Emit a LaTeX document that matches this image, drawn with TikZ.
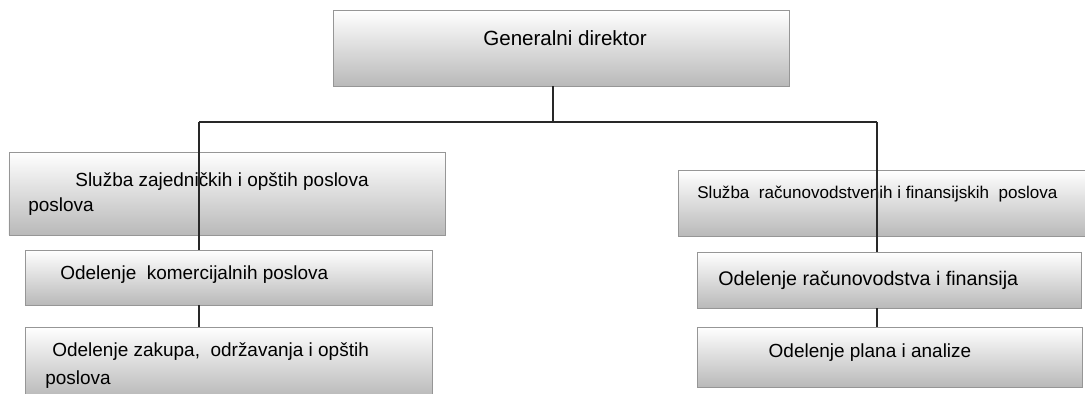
\documentclass[tikz,border=0pt]{standalone}
\usepackage{fontspec}
\setmainfont{Liberation Sans}
\definecolor{boxline}{RGB}{150, 150, 150}
\definecolor{boxgrey}{RGB}{185, 185, 185}
\definecolor{wire}{RGB}{40, 40, 40}
\tikzset{
  orgbox/.style={draw=boxline, top color=white, middle color=white, bottom color=boxgrey, inner sep=0pt},
  lbl/.style={anchor=west, inner sep=0pt, font=\fontsize{10.8}{13}\selectfont},
  wireline/.style={draw=wire, line width=0.8pt}
}
\begin{document}
\begin{tikzpicture}
        \useasboundingbox (0,0) rectangle (21.70,7.88);
        % boxes
        \node[orgbox, minimum width=9.12cm, minimum height=1.52cm] (gd) at (11.22,6.92) {};
        \node[orgbox, minimum width=8.72cm, minimum height=1.66cm] (sluzbaL) at (4.54,4.01) {};
        \node[orgbox, minimum width=8.24cm, minimum height=1.32cm] (sluzbaR) at (17.68,3.82) {};
        \node[orgbox, minimum width=8.14cm, minimum height=1.10cm] (komerc) at (4.57,2.33) {};
        \node[orgbox, minimum width=8.14cm, minimum height=1.40cm] (zakup) at (4.57,0.64) {};
        \node[orgbox, minimum width=7.68cm, minimum height=1.12cm] (racun) at (17.78,2.28) {};
        \node[orgbox, minimum width=7.70cm, minimum height=1.20cm] (plan) at (17.79,0.74) {};
        % texts
        \node[lbl, font=\fontsize{11.7}{14}\selectfont] (gdText) at (9.66,7.12) {Generalni direktor};
        \node[lbl] (sluzbaLText) at (1.50,4.24) {Služba zajedničkih i opštih poslova};
        \node[lbl] (sluzbaLMore) at (0.56,3.74) {poslova};
        \node[lbl, font=\fontsize{9.7}{12}\selectfont] (sluzbaRText) at (13.94,4.00) {Služba\ \ računovodstvenih i finansijskih\ \ poslova};
        \node[lbl] (komercText) at (1.20,2.38) {Odelenje\ \ komercijalnih poslova};
        \node[lbl] (zakupText) at (1.04,0.84) {Odelenje zakupa,\ \ održavanja i opštih};
        \node[lbl] (zakupMore) at (0.90,0.28) {poslova};
        \node[lbl, font=\fontsize{11.2}{13}\selectfont] (racunText) at (14.36,2.28) {Odelenje računovodstva i finansija};
        \node[lbl, anchor=center] (planText) at (17.40,0.82) {Odelenje plana i analize};
        % connectors
        \coordinate (fork) at (11.06,5.44);
        \coordinate (leftDrop) at (3.98,5.44);
        \coordinate (rightDrop) at (17.54,5.44);
        \draw[wireline] (fork |- gd.south) -- (fork);
        \draw[wireline] (leftDrop) -- (rightDrop);
        \draw[wireline] (rightDrop) -- (rightDrop |- sluzbaR.north);
        \draw[wireline] (leftDrop) -- (leftDrop |- komerc.north);
        \draw[wireline] (leftDrop |- komerc.south) -- (leftDrop |- zakup.north);
        \draw[wireline] (rightDrop |- sluzbaR.north) -- (rightDrop |- racun.north);
        \draw[wireline] (rightDrop |- racun.south) -- (rightDrop |- plan.north);
\end{tikzpicture}
\end{document}
